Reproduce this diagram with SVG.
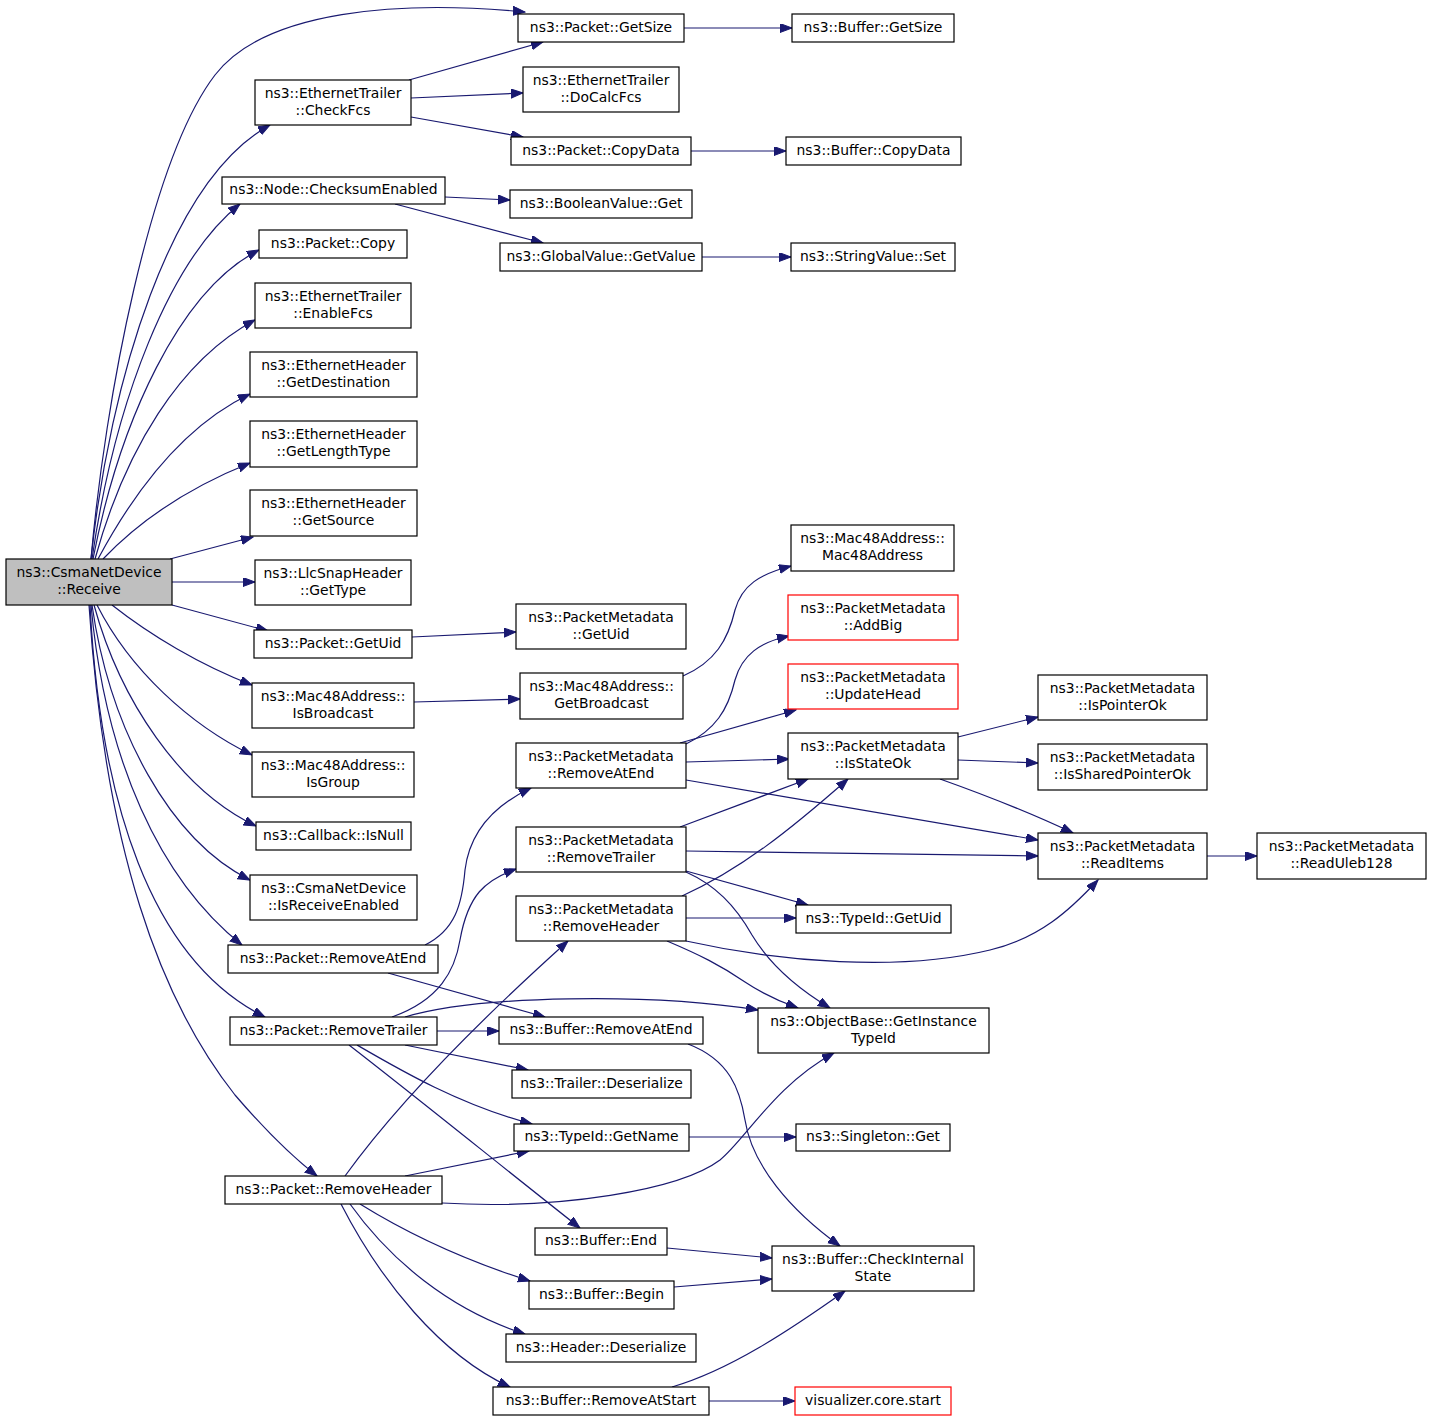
<svg xmlns="http://www.w3.org/2000/svg" width="1432" height="1422" viewBox="0 0 1432 1422">
<style>
.n rect{fill:#fff;stroke:#000;stroke-width:1.2}
.n.r rect{stroke:#ff0000}
.n.g rect{fill:#bfbfbf}
text{font-family:"DejaVu Sans",sans-serif;font-size:13.9px;text-anchor:middle;fill:#000}
#edges path{fill:none;stroke:#191970;stroke-width:1.2;marker-end:url(#ah)}
</style>
<defs>
<marker id="ah" markerUnits="userSpaceOnUse" markerWidth="13" markerHeight="10" refX="12" refY="4.5" orient="auto" viewBox="0 0 13 10">
<path d="M0,0 L12,4.5 L0,9 z" fill="#191970" stroke="#191970" stroke-width="1"/>
</marker>
</defs>
<rect width="1432" height="1422" fill="#fff"/>
<g id="edges">
<path d="M91,559 C105,400 150,160 215,75 C265,10 400,0 525,12"/>
<path d="M91,559 C110,380 170,180 270,125"/>
<path d="M92,559 C115,400 170,260 240,204"/>
<path d="M93,559 C120,420 180,290 259,250"/>
<path d="M95,559 C125,450 180,360 255,320"/>
<path d="M98,559 C135,490 185,425 250,394"/>
<path d="M103,559 C145,515 195,485 250,463"/>
<path d="M170,559 L253,537"/>
<path d="M172,582 L255,582"/>
<path d="M172,605 L268,631"/>
<path d="M112,605 C150,635 200,665 252,685"/>
<path d="M97,605 C130,670 190,725 252,755"/>
<path d="M94,605 C120,700 180,790 256,826"/>
<path d="M92,605 C110,730 170,840 250,880"/>
<path d="M91,605 C105,760 160,880 242,945"/>
<path d="M90,605 C100,800 150,960 265,1017"/>
<path d="M89,605 C105,850 160,1000 235,1095 C265,1130 290,1155 317,1176"/>
<path d="M409,80 L543,42"/>
<path d="M411,98 L523,93"/>
<path d="M411,117 L523,137"/>
<path d="M445,197 L510,200"/>
<path d="M395,204 L543,243"/>
<path d="M684,28 L792,28"/>
<path d="M691,151 L786,151"/>
<path d="M702,257 L791,257"/>
<path d="M412,637 L516,632"/>
<path d="M414,702 L520,699"/>
<path d="M683,676 C715,662 728,640 735,610 C742,585 760,574 791,566"/>
<path d="M686,744 C715,730 728,710 735,680 C742,655 760,642 789,636"/>
<path d="M680,743 L796,710"/>
<path d="M686,762 L789,759"/>
<path d="M686,780 L1038,840"/>
<path d="M425,945 C455,930 462,905 465,870 C470,830 495,805 531,788"/>
<path d="M388,973 L545,1017"/>
<path d="M392,1017 C440,1000 455,970 460,940 C468,895 485,880 516,869"/>
<path d="M405,1017 C480,995 650,993 758,1010"/>
<path d="M437,1031 L499,1031"/>
<path d="M405,1045 L528,1070"/>
<path d="M357,1045 C400,1070 460,1105 532,1124"/>
<path d="M349,1045 C420,1100 500,1165 580,1228"/>
<path d="M345,1176 C400,1100 480,1020 568,941"/>
<path d="M405,1176 L529,1151"/>
<path d="M442,1203 C560,1210 680,1190 720,1160 C745,1140 775,1085 834,1053"/>
<path d="M360,1204 C410,1235 470,1262 530,1281"/>
<path d="M350,1204 C390,1260 450,1310 525,1334"/>
<path d="M341,1204 C380,1280 440,1355 510,1387"/>
<path d="M680,827 L808,779"/>
<path d="M686,851 L1038,856"/>
<path d="M686,871 L808,905"/>
<path d="M686,872 C715,885 735,905 752,935 C770,965 800,990 830,1008"/>
<path d="M682,896 C740,870 790,830 848,779"/>
<path d="M686,918 L796,918"/>
<path d="M686,941 C780,962 900,972 990,950 C1040,938 1070,910 1098,880"/>
<path d="M667,941 C700,955 720,965 745,982 C760,992 775,1000 798,1008"/>
<path d="M958,737 L1038,717"/>
<path d="M958,760 L1038,763"/>
<path d="M940,779 C985,795 1035,815 1073,833"/>
<path d="M1207,856 L1257,856"/>
<path d="M688,1044 C730,1060 740,1090 745,1120 C752,1165 790,1210 840,1246"/>
<path d="M667,1248 L772,1258"/>
<path d="M674,1287 L772,1279"/>
<path d="M672,1387 C730,1370 790,1330 845,1291"/>
<path d="M709,1401 L795,1401"/>
<path d="M689,1137 L796,1137"/>
</g>
<g id="n_recv" class="n g"><rect x="6" y="559" width="166" height="46"/><text x="89" y="577">ns3::CsmaNetDevice</text><text x="89" y="594">::Receive</text></g>
<g id="n_getsize" class="n"><rect x="518" y="14" width="166" height="28"/><text x="601" y="31.5">ns3::Packet::GetSize</text></g>
<g id="n_bgetsize" class="n"><rect x="792" y="14" width="162" height="28"/><text x="873" y="31.5">ns3::Buffer::GetSize</text></g>
<g id="n_docalc" class="n"><rect x="523" y="67" width="156" height="45"/><text x="601" y="84.5">ns3::EthernetTrailer</text><text x="601" y="101.5">::DoCalcFcs</text></g>
<g id="n_copydata" class="n"><rect x="511" y="137" width="180" height="28"/><text x="601" y="154.5">ns3::Packet::CopyData</text></g>
<g id="n_bcopydata" class="n"><rect x="786" y="137" width="175" height="28"/><text x="873.5" y="154.5">ns3::Buffer::CopyData</text></g>
<g id="n_checkfcs" class="n"><rect x="255" y="80" width="156" height="45"/><text x="333" y="97.5">ns3::EthernetTrailer</text><text x="333" y="114.5">::CheckFcs</text></g>
<g id="n_cksum" class="n"><rect x="222" y="177" width="223" height="27"/><text x="333.5" y="194">ns3::Node::ChecksumEnabled</text></g>
<g id="n_copy" class="n"><rect x="259" y="230" width="148" height="28"/><text x="333" y="247.5">ns3::Packet::Copy</text></g>
<g id="n_enablefcs" class="n"><rect x="255" y="283" width="156" height="45"/><text x="333" y="300.5">ns3::EthernetTrailer</text><text x="333" y="317.5">::EnableFcs</text></g>
<g id="n_getdest" class="n"><rect x="250" y="352" width="167" height="45"/><text x="333.5" y="369.5">ns3::EthernetHeader</text><text x="333.5" y="386.5">::GetDestination</text></g>
<g id="n_getlen" class="n"><rect x="250" y="421" width="167" height="46"/><text x="333.5" y="439">ns3::EthernetHeader</text><text x="333.5" y="456">::GetLengthType</text></g>
<g id="n_getsrc" class="n"><rect x="250" y="490" width="167" height="46"/><text x="333.5" y="508">ns3::EthernetHeader</text><text x="333.5" y="525">::GetSource</text></g>
<g id="n_gettype" class="n"><rect x="255" y="560" width="156" height="45"/><text x="333" y="577.5">ns3::LlcSnapHeader</text><text x="333" y="594.5">::GetType</text></g>
<g id="n_getuid" class="n"><rect x="254" y="630" width="158" height="28"/><text x="333" y="647.5">ns3::Packet::GetUid</text></g>
<g id="n_isbcast" class="n"><rect x="252" y="683" width="162" height="45"/><text x="333" y="700.5">ns3::Mac48Address::</text><text x="333" y="717.5">IsBroadcast</text></g>
<g id="n_isgroup" class="n"><rect x="252" y="752" width="162" height="45"/><text x="333" y="769.5">ns3::Mac48Address::</text><text x="333" y="786.5">IsGroup</text></g>
<g id="n_isnull" class="n"><rect x="256" y="822" width="155" height="28"/><text x="333.5" y="839.5">ns3::Callback::IsNull</text></g>
<g id="n_isrecv" class="n"><rect x="250" y="875" width="167" height="45"/><text x="333.5" y="892.5">ns3::CsmaNetDevice</text><text x="333.5" y="909.5">::IsReceiveEnabled</text></g>
<g id="n_premend" class="n"><rect x="228" y="945" width="210" height="28"/><text x="333" y="962.5">ns3::Packet::RemoveAtEnd</text></g>
<g id="n_premtrl" class="n"><rect x="230" y="1017" width="207" height="28"/><text x="333.5" y="1034.5">ns3::Packet::RemoveTrailer</text></g>
<g id="n_premhdr" class="n"><rect x="225" y="1176" width="217" height="28"/><text x="333.5" y="1193.5">ns3::Packet::RemoveHeader</text></g>
<g id="n_boolget" class="n"><rect x="510" y="190" width="182" height="28"/><text x="601" y="207.5">ns3::BooleanValue::Get</text></g>
<g id="n_gvget" class="n"><rect x="500" y="243" width="202" height="28"/><text x="601" y="260.5">ns3::GlobalValue::GetValue</text></g>
<g id="n_svset" class="n"><rect x="791" y="243" width="164" height="28"/><text x="873" y="260.5">ns3::StringValue::Set</text></g>
<g id="n_mac48" class="n"><rect x="791" y="525" width="163" height="46"/><text x="872.5" y="543">ns3::Mac48Address::</text><text x="872.5" y="560">Mac48Address</text></g>
<g id="n_pmuid" class="n"><rect x="516" y="604" width="170" height="45"/><text x="601" y="621.5">ns3::PacketMetadata</text><text x="601" y="638.5">::GetUid</text></g>
<g id="n_getbc" class="n"><rect x="520" y="673" width="163" height="46"/><text x="601.5" y="691">ns3::Mac48Address::</text><text x="601.5" y="708">GetBroadcast</text></g>
<g id="n_addbig" class="n r"><rect x="788" y="595" width="170" height="45"/><text x="873" y="612.5">ns3::PacketMetadata</text><text x="873" y="629.5">::AddBig</text></g>
<g id="n_updhead" class="n r"><rect x="788" y="664" width="170" height="45"/><text x="873" y="681.5">ns3::PacketMetadata</text><text x="873" y="698.5">::UpdateHead</text></g>
<g id="n_pmremend" class="n"><rect x="516" y="743" width="170" height="45"/><text x="601" y="760.5">ns3::PacketMetadata</text><text x="601" y="777.5">::RemoveAtEnd</text></g>
<g id="n_isstate" class="n"><rect x="788" y="733" width="170" height="46"/><text x="873" y="751">ns3::PacketMetadata</text><text x="873" y="768">::IsStateOk</text></g>
<g id="n_pmremtrl" class="n"><rect x="516" y="827" width="170" height="45"/><text x="601" y="844.5">ns3::PacketMetadata</text><text x="601" y="861.5">::RemoveTrailer</text></g>
<g id="n_pmremhdr" class="n"><rect x="516" y="896" width="170" height="45"/><text x="601" y="913.5">ns3::PacketMetadata</text><text x="601" y="930.5">::RemoveHeader</text></g>
<g id="n_tidgetuid" class="n"><rect x="796" y="905" width="155" height="28"/><text x="873.5" y="922.5">ns3::TypeId::GetUid</text></g>
<g id="n_objbase" class="n"><rect x="758" y="1008" width="231" height="45"/><text x="873.5" y="1025.5">ns3::ObjectBase::GetInstance</text><text x="873.5" y="1042.5">TypeId</text></g>
<g id="n_bremend" class="n"><rect x="499" y="1017" width="204" height="27"/><text x="601" y="1034">ns3::Buffer::RemoveAtEnd</text></g>
<g id="n_trldes" class="n"><rect x="512" y="1070" width="179" height="28"/><text x="601.5" y="1087.5">ns3::Trailer::Deserialize</text></g>
<g id="n_tidname" class="n"><rect x="514" y="1124" width="175" height="27"/><text x="601.5" y="1141">ns3::TypeId::GetName</text></g>
<g id="n_singleton" class="n"><rect x="796" y="1124" width="154" height="27"/><text x="873" y="1141">ns3::Singleton::Get</text></g>
<g id="n_bend" class="n"><rect x="535" y="1228" width="132" height="27"/><text x="601" y="1245">ns3::Buffer::End</text></g>
<g id="n_bcheck" class="n"><rect x="772" y="1246" width="202" height="45"/><text x="873" y="1263.5">ns3::Buffer::CheckInternal</text><text x="873" y="1280.5">State</text></g>
<g id="n_bbegin" class="n"><rect x="529" y="1281" width="145" height="28"/><text x="601.5" y="1298.5">ns3::Buffer::Begin</text></g>
<g id="n_hdrdes" class="n"><rect x="506" y="1334" width="190" height="28"/><text x="601" y="1351.5">ns3::Header::Deserialize</text></g>
<g id="n_bremstart" class="n"><rect x="493" y="1387" width="216" height="28"/><text x="601" y="1404.5">ns3::Buffer::RemoveAtStart</text></g>
<g id="n_viz" class="n r"><rect x="795" y="1387" width="156" height="28"/><text x="873" y="1404.5">visualizer.core.start</text></g>
<g id="n_isptr" class="n"><rect x="1038" y="675" width="169" height="45"/><text x="1122.5" y="692.5">ns3::PacketMetadata</text><text x="1122.5" y="709.5">::IsPointerOk</text></g>
<g id="n_isshptr" class="n"><rect x="1038" y="744" width="169" height="46"/><text x="1122.5" y="762">ns3::PacketMetadata</text><text x="1122.5" y="779">::IsSharedPointerOk</text></g>
<g id="n_readitems" class="n"><rect x="1038" y="833" width="169" height="46"/><text x="1122.5" y="851">ns3::PacketMetadata</text><text x="1122.5" y="868">::ReadItems</text></g>
<g id="n_uleb" class="n"><rect x="1257" y="833" width="169" height="46"/><text x="1341.5" y="851">ns3::PacketMetadata</text><text x="1341.5" y="868">::ReadUleb128</text></g>
</svg>
